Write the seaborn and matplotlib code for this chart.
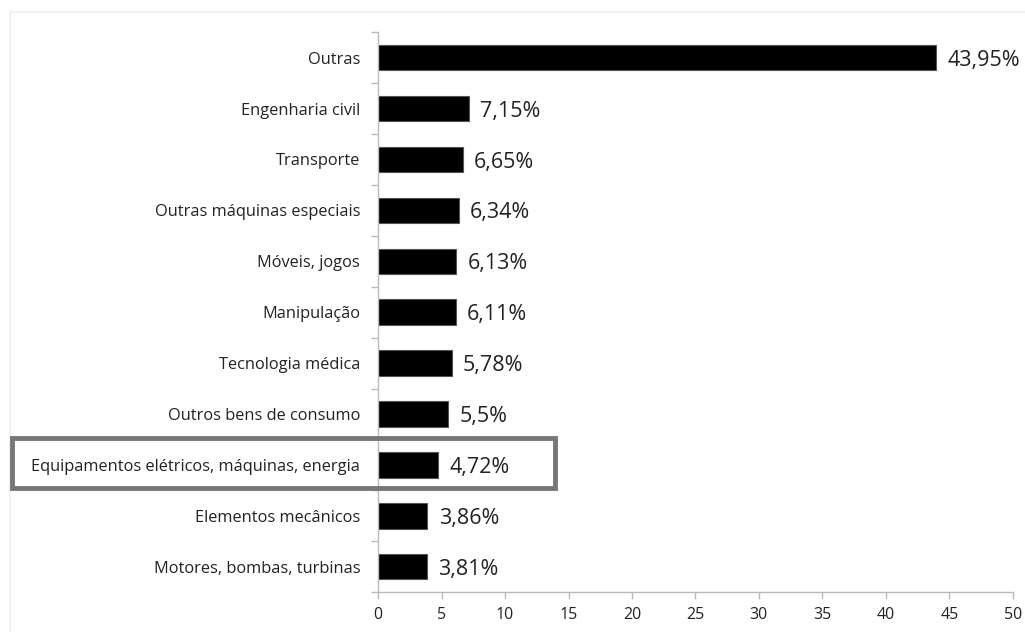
import pandas as pd
import seaborn as sns
import matplotlib.pyplot as plt
from matplotlib.patches import Rectangle

# Data
categories = ['Outras', 'Engenharia civil', 'Transporte', 'Outras máquinas especiais',
              'Móveis, jogos', 'Manipulação', 'Tecnologia médica', 'Outros bens de consumo',
              'Equipamentos elétricos, máquinas, energia', 'Elementos mecânicos',
              'Motores, bombas, turbinas']
values = [43.95, 7.15, 6.65, 6.34, 6.13, 6.11, 5.78, 5.5, 4.72, 3.86, 3.81]
value_labels = ['43,95%', '7,15%', '6,65%', '6,34%', '6,13%', '6,11%', '5,78%',
                '5,5%', '4,72%', '3,86%', '3,81%']
highlighted = 'Equipamentos elétricos, máquinas, energia'

df = pd.DataFrame({'categoria': categories, 'valor': values})

sns.set_style('white')
plt.rcParams['font.family'] = ['Open Sans', 'DejaVu Sans']

fig = plt.figure(figsize=(10.25, 6.32), dpi=100)
ax = fig.add_axes([0.369, 0.063, 0.619, 0.886])

sns.barplot(data=df, x='valor', y='categoria', color='black', width=0.5,
            edgecolor='#555555', linewidth=0.8, ax=ax)

for i, (v, lab) in enumerate(zip(values, value_labels)):
    ax.text(v + 0.9, i + 0.05, lab, va='center', ha='left', fontsize=15.5, color='#222222')

ax.set_xlim(0, 50)
ax.set_ylim(len(categories) - 0.5, -0.5)
ax.set_xticks(range(0, 51, 5))
ax.set_xlabel('')
ax.set_ylabel('')

# category boundary ticks on y axis, labels centered
ax.set_yticks([i for i in range(len(categories))])
ax.set_yticklabels(categories)
ax.set_yticks([i - 0.5 for i in range(len(categories) + 1)], minor=True)
ax.tick_params(axis='y', which='major', length=0, pad=13, labelsize=11.8, labelcolor='#222222')
ax.tick_params(axis='y', which='minor', length=5, color='#bbbbbb', width=1, left=True)
ax.tick_params(axis='x', length=5, color='#bbbbbb', width=1, bottom=True,
               labelsize=11.5, labelcolor='#222222', pad=6)

for side in ['top', 'right']:
    ax.spines[side].set_visible(False)
for side in ['left', 'bottom']:
    ax.spines[side].set_color('#bbbbbb')
    ax.spines[side].set_linewidth(1)

# light outer frame
fig.patches.append(Rectangle((10 / 1025, -0.01), 1.0, (632 - 12) / 632 + 0.01,
                             transform=fig.transFigure, fill=False,
                             edgecolor='#eeeeee', linewidth=1.2))

# highlight box around one category
fig.patches.append(Rectangle((12 / 1025, (632 - 488) / 632), (555 - 12) / 1025, 50 / 632,
                             transform=fig.transFigure, fill=False,
                             edgecolor='#777777', linewidth=3.5, zorder=10))

plt.savefig('out.png', dpi=100)
